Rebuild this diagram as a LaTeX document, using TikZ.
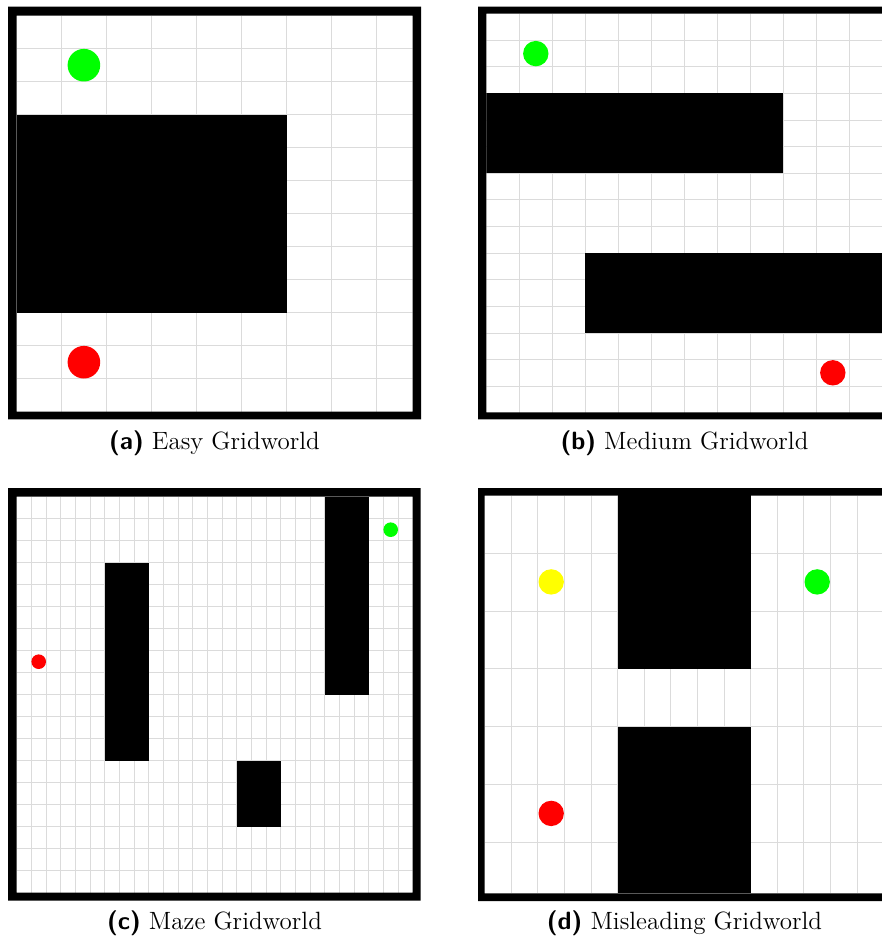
\documentclass[tikz,border=0pt]{standalone}
\definecolor{goalgreen}{RGB}{0,255,0}
\definecolor{startred}{RGB}{255,0,0}
\definecolor{decoyyellow}{RGB}{255,255,0}
\begin{document}
\begin{tikzpicture}[x=0.5pt,y=-0.5pt,
  gridline/.style={draw=black!14,line width=0.5pt},
  wall/.style={fill=black},
  framebox/.style={fill=black,even odd rule},
  subcap/.style={anchor=base,inner sep=0pt,font=\fontsize{12.5}{14}\selectfont}]
\clip (0,0) rectangle (882,941);
\fill[white] (0,0) rectangle (882,941);

% ---------- (a) Easy ----------
\begin{scope}
  \clip (16.5,15.7) rectangle (412.7,411.7);
  \foreach \i in {1,...,8} \draw[gridline] ({16.5+45*\i},15.7) -- ({16.5+45*\i},411.7);
  \foreach \j in {1,...,11} \draw[gridline] (16.5,{15.7+33*\j}) -- (412.7,{15.7+33*\j});
  \fill[wall] (16.5,114.7) rectangle (286.5,312.7);
  \fill[goalgreen] (83.9,65.2) circle[radius=16.3];
  \fill[startred] (83.9,362.2) circle[radius=16.3];
\end{scope}
\fill[framebox] (8,6.7) rectangle (421,419.3) (16.5,15.7) rectangle (412.7,411.7);
\node[subcap] (capA) at (214.5,449) {{\sffamily\bfseries (a)} Easy Gridworld};

% ---------- (b) Medium ----------
\begin{scope}
  \clip (486.3,13.7) rectangle (882.3,412.9);
  \foreach \i in {1,...,11} \draw[gridline] ({486.3+33*\i},13.7) -- ({486.3+33*\i},412.9);
  \foreach \j in {1,...,14} \draw[gridline] (486.3,{13.7+26.61*\j}) -- (882.3,{13.7+26.61*\j});
  \fill[wall] (486.3,93.5) rectangle (783.3,173.4);
  \fill[wall] (585.3,253.2) rectangle (882.3,333.0);
  \fill[goalgreen] (535.8,53.6) circle[radius=12.7];
  \fill[startred] (832.8,372.8) circle[radius=12.7];
\end{scope}
\fill[framebox] (478,6.7) rectangle (891,419.3) (486.3,13.7) rectangle (882.3,412.4);
\node[subcap] (capB) at (684.5,449) {{\sffamily\bfseries (b)} Medium Gridworld};

% ---------- (c) Maze ----------
\begin{scope}
  \clip (16.7,496.7) rectangle (412.7,892.7);
  \foreach \i in {1,...,26} \draw[gridline] ({16.7+14.6667*\i},496.7) -- ({16.7+14.6667*\i},892.7);
  \foreach \j in {1,...,17} \draw[gridline] (16.7,{496.7+22*\j}) -- (412.7,{496.7+22*\j});
  \fill[wall] (104.7,562.7) rectangle (148.7,760.7);
  \fill[wall] (324.7,496.7) rectangle (368.7,694.7);
  \fill[wall] (236.7,760.7) rectangle (280.7,826.7);
  \fill[goalgreen] (390.7,529.7) circle[radius=7.3];
  \fill[startred] (38.7,661.7) circle[radius=7.3];
\end{scope}
\fill[framebox] (8,488) rectangle (420.7,900.7) (16.7,496.7) rectangle (412.7,892.5);
\node[subcap] (capC) at (214.5,929) {{\sffamily\bfseries (c)} Maze Gridworld};

% ---------- (d) Misleading ----------
\begin{scope}
  \clip (484.7,495.5) rectangle (882.3,893.3);
  \foreach \i in {1,...,14} \draw[gridline] ({484.7+26.6*\i},495.5) -- ({484.7+26.6*\i},893.3);
  \foreach \j in {1,...,6} \draw[gridline] (484.7,{495.3+57.87*\j}) -- (882.3,{495.3+57.87*\j});
  \fill[wall] (617.7,495.3) rectangle (750.7,669.0);
  \fill[wall] (617.7,726.8) rectangle (750.7,893.3);
  \fill[decoyyellow] (551.2,581.9) circle[radius=12.7];
  \fill[goalgreen] (817.2,581.9) circle[radius=12.7];
  \fill[startred] (551.2,813.4) circle[radius=12.7];
\end{scope}
\fill[framebox] (478,488) rectangle (891,901) (484.7,495.7) rectangle (882.3,893.3);
\node[subcap] (capD) at (684.5,929) {{\sffamily\bfseries (d)} Misleading Gridworld};
\end{tikzpicture}
\end{document}
